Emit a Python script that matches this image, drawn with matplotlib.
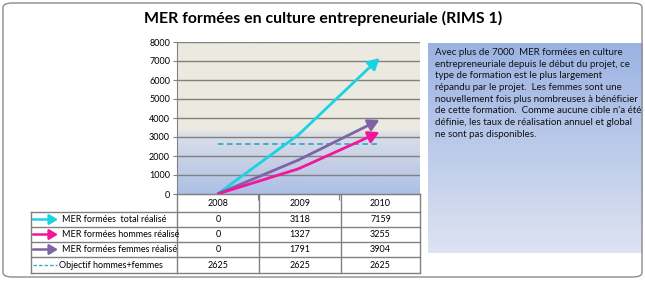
import matplotlib
matplotlib.use("Agg")
import matplotlib.pyplot as plt
import numpy as np
from matplotlib.patches import FancyBboxPatch, FancyArrowPatch
from matplotlib.colors import LinearSegmentedColormap
from matplotlib.lines import Line2D

plt.rcParams['font.family'] = ['Lato', 'DejaVu Sans']

years = ['2008', '2009', '2010']
total = [0, 3118, 7159]
hommes = [0, 1327, 3255]
femmes = [0, 1791, 3904]
objectif = [2625, 2625, 2625]
labels = ['MER formées  total réalisé', 'MER formées hommes réalisé',
          'MER formées femmes réalisé', 'Objectif hommes+femmes']
yticks = [0, 1000, 2000, 3000, 4000, 5000, 6000, 7000, 8000]
title = 'MER formées en culture entrepreneuriale (RIMS 1)'
comment = ("Avec plus de 7000  MER formées en culture\n"
           "entrepreneuriale depuis le début du projet, ce\n"
           "type de formation est le plus largement\n"
           "répandu par le projet.  Les femmes sont une\n"
           "nouvellement fois plus nombreuses à bénéficier\n"
           "de cette formation.  Comme aucune cible n'a été\n"
           "définie, les taux de réalisation annuel et global\n"
           "ne sont pas disponibles.")

c_total = '#19D3E3'
c_hom = '#F0179B'
c_fem = '#7E63A6'
c_obj = '#3BA7CB'

W, H = 645, 284
fig = plt.figure(figsize=(W / 100, H / 100), dpi=100)

def fx(x):
    return x / W

def fy(y):
    return 1 - y / H

# outer border
fig.patches.append(FancyBboxPatch((fx(3), fy(277)), fx(639), (274) / H,
                                  boxstyle="round,pad=0,rounding_size=0.015",
                                  transform=fig.transFigure, fill=False,
                                  edgecolor='#8C8C8C', lw=1.0))

fig.text(fx(323), fy(18), title, ha='center', va='center', fontsize=11.4,
         fontweight='bold')

# comment box with gradient
cax = fig.add_axes([fx(428), fy(253), fx(642 - 428), (253 - 43) / H])
grad_cm = LinearSegmentedColormap.from_list('g', ['#9BB3E3', '#DDE3F2'])
cax.imshow(np.linspace(0, 1, 100).reshape(-1, 1), aspect='auto', cmap=grad_cm,
           extent=[0, 1, 0, 1], origin='upper')
cax.set_xlim(0, 1); cax.set_ylim(0, 1)
cax.axis('off')
fig.text(fx(435), fy(48), comment, ha='left', va='top', fontsize=7.0,
         linespacing=1.38, color='#111111')

# main axes
ax = fig.add_axes([fx(177), fy(194), fx(420 - 177), (194 - 42) / H])
bg_cm = LinearSegmentedColormap.from_list(
    'bg', [(0, '#ECEAE0'), (0.58, '#ECEAE0'), (0.6, '#DCDFE6'), (1.0, '#ADBFE6')])
ax.imshow(np.linspace(0, 1, 200).reshape(-1, 1), aspect='auto', cmap=bg_cm,
          extent=[-0.5, 2.5, 0, 8000], origin='upper', zorder=0)
ax.set_xlim(-0.5, 2.5)
ax.set_ylim(0, 8000)
ax.set_yticks(yticks)
ax.set_yticklabels([str(v) for v in yticks], fontsize=6.5)
ax.tick_params(axis='y', length=3, color='#808080', pad=2)
ax.set_xticks([0.5, 1.5])
ax.set_xticklabels([])
ax.tick_params(axis='x', length=4, color='#808080', direction='out')
for v in yticks[1:]:
    ax.axhline(v, color='#808080', lw=1.0, zorder=1)
for s in ['top', 'right']:
    ax.spines[s].set_visible(False)
ax.spines['left'].set_color('#808080')
ax.spines['bottom'].set_color('#808080')

xs = np.arange(len(years))
ax.plot(xs, objectif, color=c_obj, lw=1.3, ls=(0, (3, 2)), zorder=3)
for vals, col in [(total, c_total), (femmes, c_fem), (hommes, c_hom)]:
    ax.plot(xs[:2], vals[:2], color=col, lw=2.0, zorder=4, solid_capstyle='butt')
    ax.annotate('', xy=(xs[2], vals[2]), xytext=(xs[1], vals[1]),
                arrowprops=dict(arrowstyle='-|>,head_length=0.55,head_width=0.3',
                                color=col, lw=2.0, shrinkA=0, shrinkB=0,
                                mutation_scale=12), zorder=4)

# table
gray = '#808080'
col_x = [177, 259, 341, 420]
row_y = [194, 212, 227, 242, 257, 273]
tl = 31

def hline(x0, x1, y):
    fig.add_artist(Line2D([fx(x0), fx(x1)], [fy(y), fy(y)], color=gray, lw=1.0,
                          transform=fig.transFigure))

def vline(x, y0, y1):
    fig.add_artist(Line2D([fx(x), fx(x)], [fy(y0), fy(y1)], color=gray, lw=1.0,
                          transform=fig.transFigure))

hline(col_x[0], col_x[-1], row_y[0])
for y in row_y[1:]:
    hline(tl, col_x[-1], y)
for x in col_x:
    vline(x, row_y[0], row_y[-1])
vline(tl, row_y[1], row_y[-1])

for j, yr in enumerate(years):
    fig.text(fx((col_x[j] + col_x[j + 1]) / 2), fy((row_y[0] + row_y[1]) / 2 + 1),
             yr, ha='center', va='center', fontsize=6.5)

series = [total, hommes, femmes, objectif]
colors = [c_total, c_hom, c_fem, c_obj]
for i, (vals, lab, col) in enumerate(zip(series, labels, colors)):
    yc = (row_y[i + 1] + row_y[i + 2]) / 2
    for j, v in enumerate(vals):
        fig.text(fx((col_x[j] + col_x[j + 1]) / 2), fy(yc), str(v),
                 ha='center', va='center', fontsize=6.5)
    if i < 3:
        fig.add_artist(FancyArrowPatch(
            (fx(33), fy(yc)), (fx(58), fy(yc)), transform=fig.transFigure,
            arrowstyle='-|>,head_length=0.5,head_width=0.3', color=col, lw=1.8,
            mutation_scale=10, shrinkA=0, shrinkB=0))
        fig.text(fx(62), fy(yc), lab, ha='left', va='center', fontsize=6.5)
    else:
        fig.add_artist(Line2D([fx(33), fx(57)], [fy(yc), fy(yc)], color=col, lw=1.0,
                              ls=(0, (2.5, 1.5)), transform=fig.transFigure))
        fig.text(fx(59), fy(yc), lab, ha='left', va='center', fontsize=6.5)

fig.savefig('out.png', dpi=100)
